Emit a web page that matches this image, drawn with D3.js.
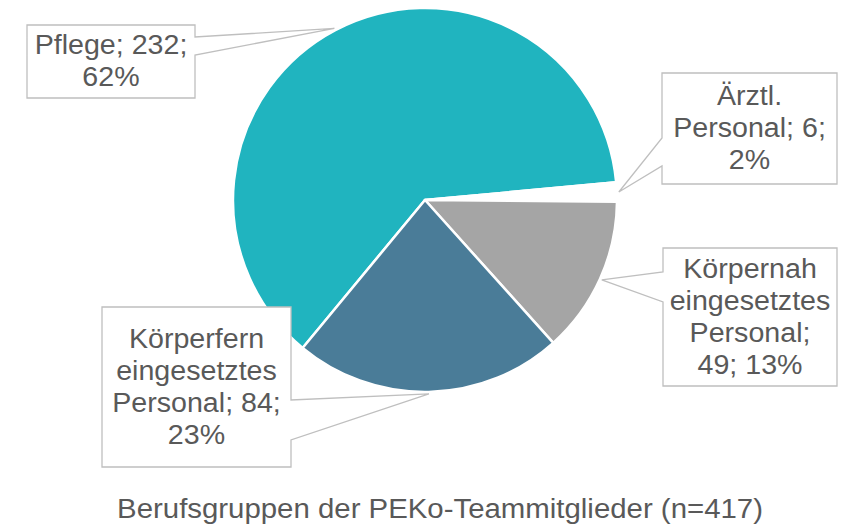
<!DOCTYPE html>
<html>
<head>
<meta charset="utf-8">
<script src="https://cdn.jsdelivr.net/npm/d3@7"></script>
<style>
  body { margin: 0; background: #fff; }
  text { font-family: "Liberation Sans", Arial, sans-serif; fill: #595959; }
</style>
</head>
<body>
<div id="chart"></div>
<script>
// data
let groups = ["Pflege", "Ärztl. Personal", "Körpernah eingesetztes Personal", "Körperfern eingesetztes Personal"];
let counts = [232, 6, 49, 84];
let colors = ["#20b4bf", "#ffffff", "#a5a5a5", "#4a7c98"];
// label text, line by line, as printed in the chart
let labelLines = [
    ["Pflege; 232;", "62%"],
    ["Ärztl.", "Personal; 6;", "2%"],
    ["Körpernah", "eingesetztes", "Personal;", "49; 13%"],
    ["Körperfern", "eingesetztes", "Personal; 84;", "23%"]
];
let title = "Berufsgruppen der PEKo-Teammitglieder (n=417)";

let width = 843, height = 527;
let cx = 425, cy = 200, radius = 192;

// callout boxes: x, y, w, h and which side the pointer leaves from
let boxes = [
    {x: 27,  y: 25,  w: 168, h: 73,  side: "right", p0: 37,  p1: 55},
    {x: 662, y: 73,  w: 175, h: 111, side: "left",  p0: 138, p1: 166},
    {x: 663, y: 248, w: 174, h: 138, side: "left",  p0: 272, p1: 302},
    {x: 102, y: 307, w: 189, h: 160, side: "right", p0: 400, p1: 440}
];

let svg = d3.select("#chart")
    .append("svg")
        .attr("width", width)
        .attr("height", height);

let pie = d3.pie()
    .sort(null)
    .startAngle(-140.4 * Math.PI / 180)
    .endAngle(-140.4 * Math.PI / 180 + 2 * Math.PI);

let arcs = pie(counts);

let arc = d3.arc().innerRadius(0).outerRadius(radius);
let pointArc = d3.arc().innerRadius(radius + 2).outerRadius(radius + 2);

let g = svg.append("g")
    .attr("transform", "translate(" + cx + "," + cy + ")");

g.selectAll("path")
    .data(arcs)
    .enter()
    .append("path")
        .attr("d", arc)
        .style("fill", function(d, i) { return colors[i]; })
        .style("stroke", "#fff")
        .style("stroke-width", 2.5)
        .style("stroke-linejoin", "round");

// callouts
arcs.forEach(function(d, i) {
    let b = boxes[i];
    let pt = pointArc.centroid(d);
    let px = pt[0] + cx, py = pt[1] + cy;
    let path;
    if (b.side === "right") {
        let ex = b.x + b.w;
        path = "M" + b.x + "," + b.y + "H" + ex + "V" + b.p0 + "L" + px + "," + py + "L" + ex + "," + b.p1 +
            "V" + (b.y + b.h) + "H" + b.x + "Z";
    } else {
        path = "M" + b.x + "," + b.y + "H" + (b.x + b.w) + "V" + (b.y + b.h) + "H" + b.x + "V" + b.p1 +
            "L" + px + "," + py + "L" + b.x + "," + b.p0 + "Z";
    }
    svg.append("path")
        .attr("d", path)
        .style("fill", "#fff")
        .style("stroke", "#bfbfbf")
        .style("stroke-width", 1.3);

    let lines = labelLines[i];
    let lh = 32;
    let mx = b.x + b.w / 2;
    let firstBase = b.y + b.h / 2 - (lines.length - 1) * lh / 2 + 9;
    // text in the original is a bit wider than the font, stretch horizontally
    let t = svg.append("text")
        .attr("text-anchor", "middle")
        .attr("transform", "translate(" + mx + ",0) scale(1.06,1)")
        .style("font-size", "27px");
    lines.forEach(function(s, k) {
        t.append("tspan")
            .attr("x", 0)
            .attr("y", firstBase + k * lh)
            .text(s);
    });
});

svg.append("text")
    .attr("transform", "translate(440,518) scale(1.05,1)")
    .attr("text-anchor", "middle")
    .style("font-size", "28px")
    .text(title);
</script>
</body>
</html>
